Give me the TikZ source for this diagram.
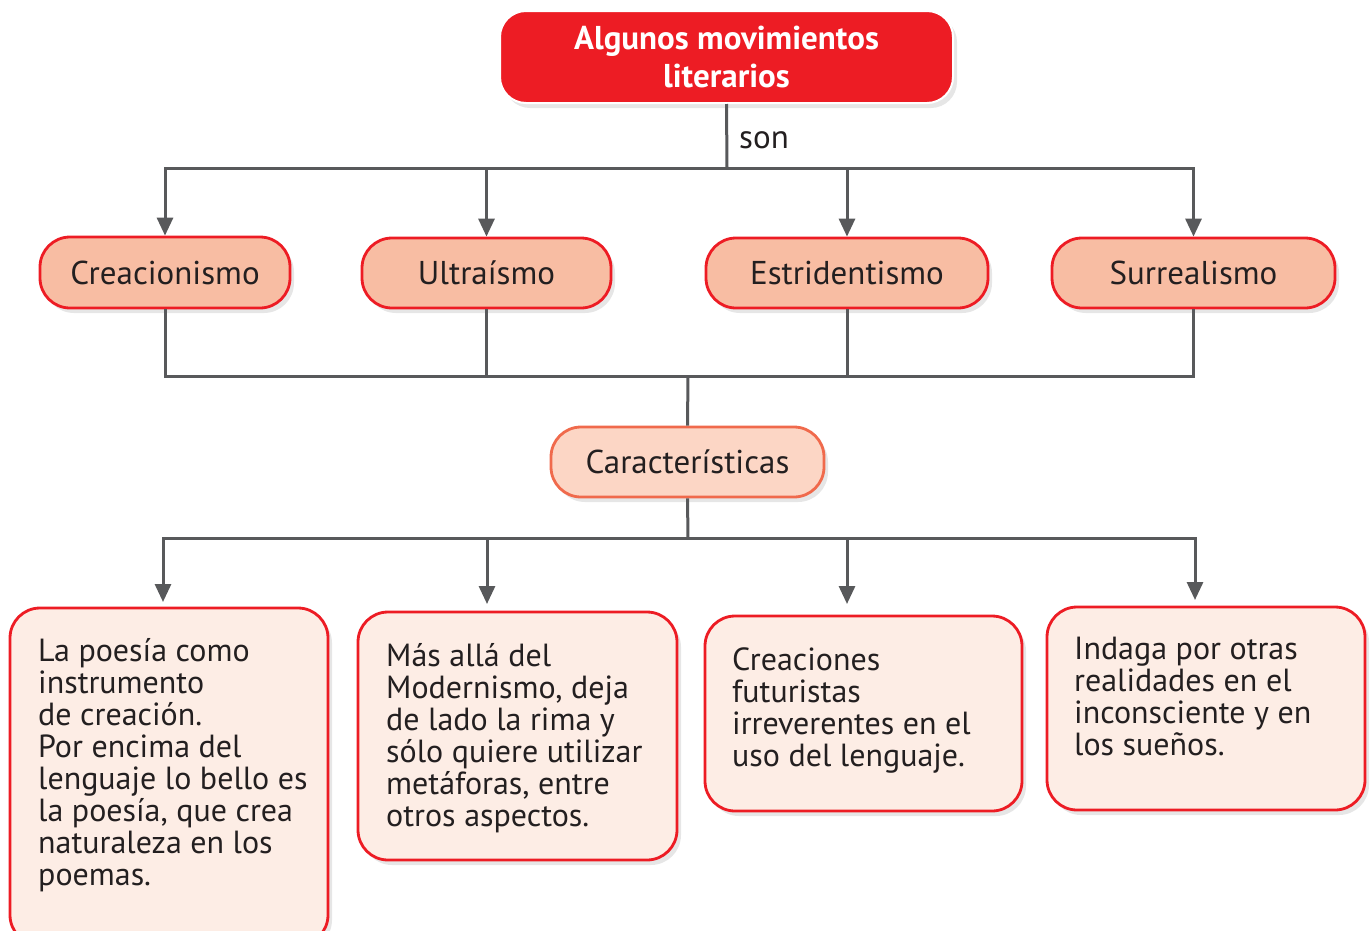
\documentclass[tikz,border=0pt]{standalone}
\usepackage{fontspec}
\setmainfont{PT Sans}
\usetikzlibrary{arrows.meta,shadows}
\definecolor{cred}{HTML}{ED1C24}
\definecolor{csalmon}{HTML}{F8BDA3}
\definecolor{clight}{HTML}{FCD6C5}
\definecolor{corange}{HTML}{F06A4C}
\definecolor{cpale}{HTML}{FDEDE5}
\definecolor{cline}{HTML}{58595B}
\definecolor{ctext}{HTML}{231F20}
\tikzset{
  shad/.style={drop shadow={opacity=0.16,shadow xshift=4pt,shadow yshift=-5pt,fill=black!60}},
  titlebox/.style={fill=cred,draw=white,line width=2pt,rounded corners=26pt,shad,inner sep=0pt},
  movbox/.style={fill=csalmon,draw=cred,line width=2.8pt,rounded corners=30pt,shad,inner sep=0pt,text=ctext,font=\fontsize{33}{33}\selectfont},
  carbox/.style={fill=clight,draw=corange,line width=2.8pt,rounded corners=30pt,shad,inner sep=0pt,text=ctext,font=\fontsize{33}{33}\selectfont},
  descbox/.style={fill=cpale,draw=cred,line width=2.8pt,rounded corners=30pt,shad,inner sep=0pt},
  desctext/.style={anchor=north west,inner sep=0pt,align=left,text=ctext,font=\fontsize{32}{32}\selectfont},
  conn/.style={draw=cline,line width=3pt},
  arr/.style={conn,-{Triangle[width=16pt,length=18pt]}},
}
\begin{document}
\begin{tikzpicture}[x=1pt,y=-1pt]
\useasboundingbox (0,0) rectangle (1371,930);
% top
\node[titlebox,minimum width=453pt,minimum height=92pt,text=white,align=center,
  font=\bfseries\fontsize{33}{38}\selectfont] (top) at (726.5,57) {Algunos movimientos\\literarios};
\node[anchor=west,inner sep=0pt,text=ctext,font=\fontsize{33}{33}\selectfont] (son) at (739,140) {son};
% movements
\node[movbox,minimum width=250pt,minimum height=71pt] (m1) at (165,272.5) {Creacionismo};
\node[movbox,minimum width=249pt,minimum height=70pt] (m2) at (486.5,273) {Ultraísmo};
\node[movbox,minimum width=282pt,minimum height=70pt] (m3) at (847,273) {Estridentismo};
\node[movbox,minimum width=283pt,minimum height=70pt] (m4) at (1193.5,273) {Surrealismo};
% caracteristicas
\node[carbox,minimum width=273pt,minimum height=70pt] (car) at (687.5,462) {Características};
% descriptions
\node[descbox,minimum width=318pt,minimum height=337pt] (b1) at (169,776.5) {};
\node[descbox,minimum width=319pt,minimum height=248pt] (b2) at (517.5,736) {};
\node[descbox,minimum width=317pt,minimum height=195pt] (b3) at (863.5,713.5) {};
\node[descbox,minimum width=318pt,minimum height=203pt] (b4) at (1206,708.5) {};
\node[desctext] (t1) at (38,638) {La poesía como\\instrumento\\de creación.\\Por encima del\\lenguaje lo bello es\\la poesía, que crea\\naturaleza en los\\poemas.};
\node[desctext] (t2) at (386,643) {Más allá del\\Modernismo, deja\\de lado la rima y\\sólo quiere utilizar\\metáforas, entre\\otros aspectos.};
\node[desctext] (t3) at (732,648) {Creaciones\\futuristas\\irreverentes en el\\uso del lenguaje.};
\node[desctext] (t4) at (1074,637) {Indaga por otras\\realidades en el\\inconsciente y en\\los sueños.};
% junctions
\coordinate (j1) at (727,168);
\coordinate (j2) at (688,376);
\coordinate (j3) at (688,538);
\coordinate (a1) at (163,602);
\coordinate (a2) at (487,604);
\coordinate (a3) at (847,604);
\coordinate (a4) at (1195,600);
% connectors
\draw[conn] (top.south) -- (j1);
\draw[arr] (j1) -| (m1.north);
\draw[arr] (j1) -| (m2.north);
\draw[arr] (j1) -| (m3.north);
\draw[arr] (j1) -| (m4.north);
\draw[conn] (m1.south) |- (j2);
\draw[conn] (m2.south) |- (j2);
\draw[conn] (m3.south) |- (j2);
\draw[conn] (m4.south) |- (j2);
\draw[conn] (j2) -- (car.north);
\draw[conn] (car.south) -- (j3);
\draw[arr] (j3) -| (a1);
\draw[arr] (j3) -| (a2);
\draw[arr] (j3) -| (a3);
\draw[arr] (j3) -| (a4);
\end{tikzpicture}
\end{document}
